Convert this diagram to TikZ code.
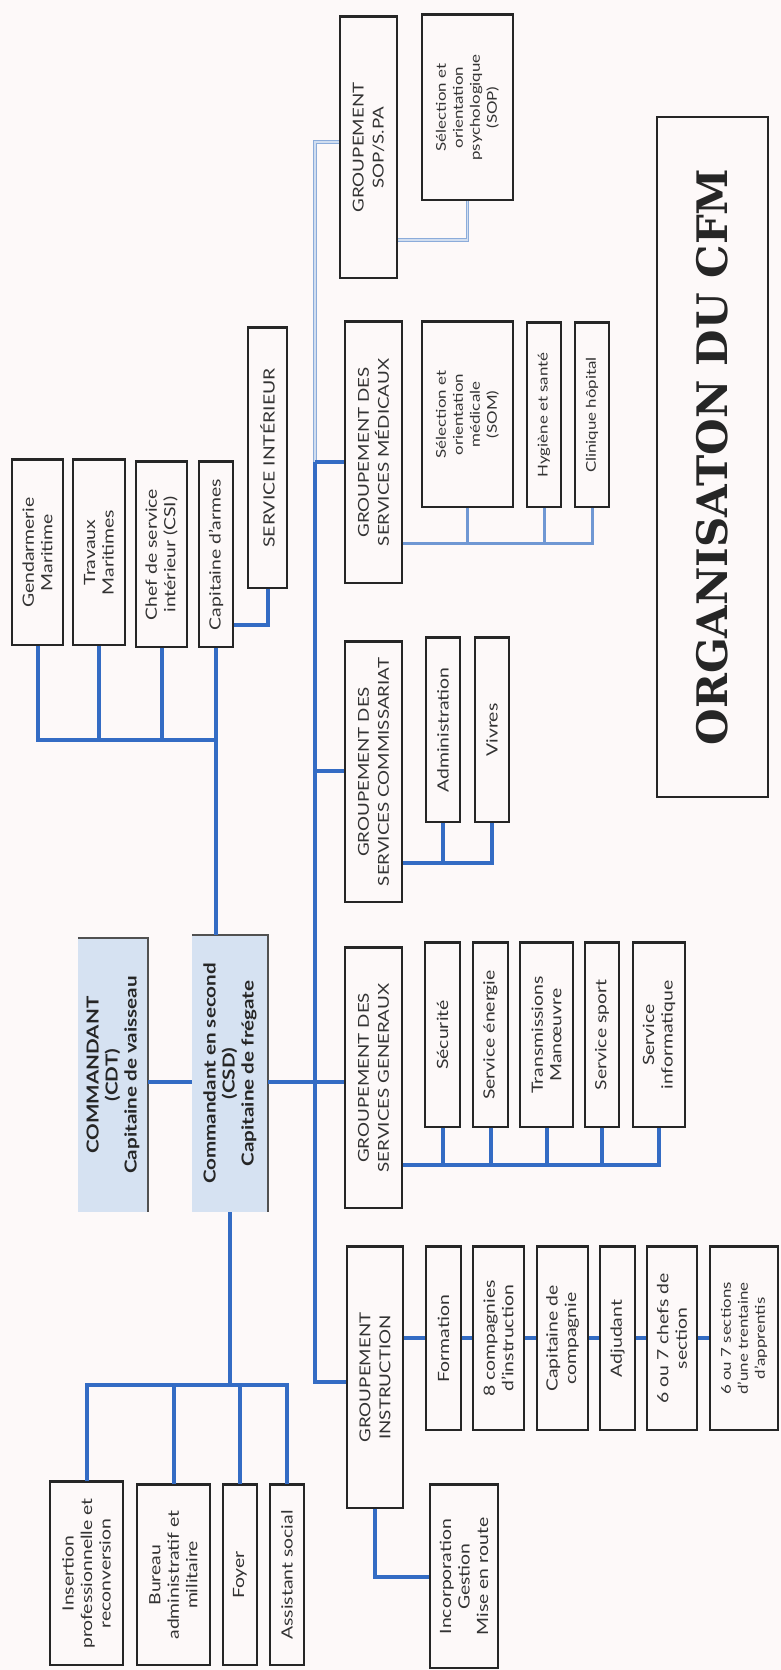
\documentclass[tikz,border=0pt]{standalone}
\usepackage{fontspec}
\setmainfont{Lato}[FakeStretch=1.25]
\newfontfamily\titlefont{DejaVu Serif}
\definecolor{bg}{RGB}{253,249,249}
\definecolor{cblue}{RGB}{52,108,196}
\definecolor{lblue}{RGB}{112,152,212}
\definecolor{pblue}{RGB}{140,172,218}
\definecolor{chief}{RGB}{214,226,242}
\definecolor{edge}{RGB}{38,38,38}
\tikzset{
  box/.style={draw=edge, line width=1.4pt, fill=bg, rotate=90, align=center, inner sep=1pt,
    font=\fontsize{15.5}{18.5}\selectfont, text=black!80},
  gbox/.style={box, font=\fontsize{15}{20}\selectfont},
  sbox/.style={box, font=\fontsize{13.5}{17}\selectfont},
  chiefbox/.style={fill=chief, rotate=90, align=center, inner sep=1pt,
    font=\bfseries\fontsize{16.5}{19}\selectfont, text=black!85},
  chiefedge/.style={draw=edge!80, line width=1.5pt},
  topedge/.style={draw=edge, line width=2.6pt},
  link/.style={draw=cblue, line width=4pt},
  thin link/.style={draw=lblue, line width=3pt},
  pale link/.style={draw=pblue, line width=1.1pt, double=white!60!pblue, double distance=1.6pt},
}
\newcommand\orgbox[7][box]{\node[#1, minimum width={(#6-#4)*1pt}, minimum height={(#5-#3)*1pt}] (#2) at ({(#3+#5)/2},{(#4+#6)/2}) {#7};
  \draw[topedge] (#2.north east) -- (#2.south east);}
\begin{document}
\begin{tikzpicture}[x=1pt,y=-1pt]
\useasboundingbox (0,0) rectangle (781,1670);
\fill[bg] (0,0) rectangle (781,1670);

% chiefs
\node[chiefbox, minimum width=274pt, minimum height=70pt] (cdt) at (113,1075) {COMMANDANT\\(CDT)\\Capitaine de vaisseau};
\node[chiefbox, minimum width=277pt, minimum height=76pt] (csd) at (230,1073.5) {Commandant en second\\(CSD)\\Capitaine de frégate};
\draw[chiefedge] (cdt.north east) -- (cdt.south east) -- (cdt.south west);
\draw[chiefedge] (csd.north east) -- (csd.south east) -- (csd.south west);

% upper services
\orgbox{gm}{12}{460}{63}{645}{Gendarmerie\\Maritime}
\orgbox{tm}{73}{460}{125}{645}{Travaux\\Maritimes}
\orgbox{cs}{136}{462}{187}{647}{Chef de service\\intérieur (CSI)}
\orgbox{ca}{199}{462}{233}{647}{Capitaine d'armes}
\orgbox{si}{248}{328}{287}{588}{SERVICE INTÉRIEUR}

% lower services
\orgbox{ins}{50}{1482}{123}{1665}{Insertion\\professionnelle et\\reconversion}
\orgbox{bur}{137}{1485}{210}{1665}{Bureau\\administratif et\\militaire}
\orgbox{foy}{223}{1485}{257}{1665}{Foyer}
\orgbox{ass}{270}{1485}{304}{1665}{Assistant social}

% groupements
\orgbox[gbox]{gsop}{340}{17}{397}{278}{GROUPEMENT\\SOP/S.PA}
\orgbox[gbox]{gmed}{345}{322}{402}{583}{GROUPEMENT DES\\SERVICES MÉDICAUX}
\orgbox[gbox]{gcom}{345}{642}{402}{902}{GROUPEMENT DES\\SERVICES COMMISSARIAT}
\orgbox[gbox]{gsg}{345}{948}{402}{1208}{GROUPEMENT DES\\SERVICES GENERAUX}
\orgbox[gbox]{gi}{347}{1247}{403}{1508}{GROUPEMENT\\INSTRUCTION}
\orgbox{inc}{430}{1485}{498}{1668}{Incorporation\\Gestion\\Mise en route}

% sub units
\orgbox[sbox]{psop}{422}{15}{513}{200}{Sélection et\\orientation\\psychologique\\(SOP)}
\orgbox[sbox]{som}{422}{322}{513}{507}{Sélection et\\orientation\\médicale\\(SOM)}
\orgbox[sbox]{hyg}{527}{323}{561}{507}{Hygiène et santé}
\orgbox[sbox]{cli}{575}{323}{609}{507}{Clinique hôpital}
\orgbox{adm}{426}{638}{460}{822}{Administration}
\orgbox{viv}{475}{638}{509}{822}{Vivres}
\orgbox{sec}{425}{943}{460}{1127}{Sécurité}
\orgbox{ene}{473}{943}{508}{1127}{Service énergie}
\orgbox{tra}{520}{943}{573}{1127}{Transmissions\\Manœuvre}
\orgbox{spo}{585}{943}{619}{1127}{Service sport}
\orgbox{inf}{633}{943}{685}{1127}{Service\\informatique}
\orgbox{form}{426}{1247}{461}{1430}{Formation}
\orgbox{comp}{473}{1247}{524}{1430}{8 compagnies\\d'instruction}
\orgbox{capc}{537}{1247}{588}{1430}{Capitaine de\\compagnie}
\orgbox{adj}{600}{1247}{635}{1430}{Adjudant}
\orgbox{chefs}{647}{1247}{697}{1430}{6 ou 7 chefs de\\section}
\orgbox[sbox]{sect}{710}{1247}{778}{1430}{6 ou 7 sections\\d'une trentaine\\d'apprentis}

% title
\node[draw=edge, line width=1.6pt, rotate=90, minimum width=680pt, minimum height=111pt,
  font=\titlefont\bfseries\fontsize{42}{50}\selectfont, text=black!85] (title) at (712.5,457) {ORGANISATON DU CFM};

% helper coordinates
\coordinate (yUp) at (0,740);
\coordinate (yCA) at (0,625);
\coordinate (yLow) at (0,1385);
\coordinate (yCSD) at (0,1082);
\coordinate (spTop) at (315,142);
\coordinate (spMed) at (315,462);
\coordinate (spCom) at (315,771);
\coordinate (spBot) at (315,1382);
\coordinate (ySOP) at (0,240);
\coordinate (yMed) at (0,543);
\coordinate (yCom) at (0,863);
\coordinate (yGSG) at (0,1165);
\coordinate (yChain) at (0,1338);
\coordinate (cU) at (ca.west |- yUp);

% command links
\draw[link] (cdt.south |- yCSD) -- (csd.north |- yCSD);
\draw[link] (csd.east -| cU) -- (cU);
\foreach \n in {gm,tm,cs,ca} \draw[link] (\n.west) |- (cU);
\draw[link] (ca.south |- yCA) -- (si.west |- yCA) -- (si.west);
\draw[link] (csd.west) -- (csd.west |- yLow);
\foreach \n in {ins,bur,foy,ass} \draw[link] (\n.east) |- (csd.west |- yLow);

% spine
\draw[pale link] (gsop.north |- spTop) -- (spTop) -- (spMed);
\draw[link] (spMed) -- (spBot) -- (gi.north |- spBot);
\draw[link] (spMed) -- (gmed.north |- spMed);
\draw[link] (spCom) -- (gcom.north |- spCom);
\draw[link] (csd.south |- yCSD) -- (gsg.north |- yCSD);

% children
\draw[pale link] (psop.west) |- (gsop.south |- ySOP);
\draw[thin link] (gmed.south |- yMed) -| (cli.west);
\foreach \n in {som,hyg} \draw[thin link] (\n.west) -- (\n.west |- yMed);
\draw[link] (gcom.south |- yCom) -| (viv.west);
\draw[link] (adm.west) -- (adm.west |- yCom);
\draw[link] (gsg.south |- yGSG) -| (inf.west);
\foreach \n in {sec,ene,tra,spo} \draw[link] (\n.west) -- (\n.west |- yGSG);
\draw[link] (gi.south |- yChain) -- (form.north |- yChain);
\foreach \a/\b in {form/comp,comp/capc,capc/adj,adj/chefs,chefs/sect}
  \draw[link] (\a.south |- yChain) -- (\b.north |- yChain);
\draw[link] (gi.west) |- (inc.north);
\end{tikzpicture}
\end{document}
